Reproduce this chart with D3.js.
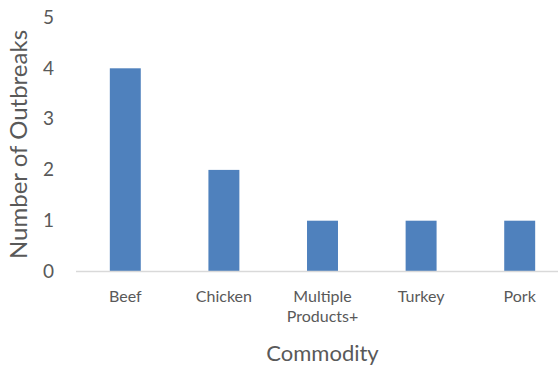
<!DOCTYPE html>
<html>
<head>
<meta charset="utf-8">
<script src="https://cdn.jsdelivr.net/npm/d3@7"></script>
<style>
  body { margin: 0; background: #fff; }
  svg { display: block; font-family: Lato, "Open Sans", sans-serif; }
</style>
</head>
<body>
<div id="chart"></div>
<script>
const categories = ['Beef', 'Chicken', 'Multiple Products+', 'Turkey', 'Pork'];
const outbreaks = [4, 2, 1, 1, 1];
const yTicks = [0, 1, 2, 3, 4, 5];

const width = 558;
const height = 366;
const plot = { left: 76, right: 569, top: 17.5, bottom: 271.5 };

const textColor = '#595959';

const svg = d3.select('#chart')
  .append('svg')
  .attr('width', width)
  .attr('height', height);

// Scales
const x = d3.scaleBand()
  .domain(categories)
  .range([plot.left, plot.right])
  .paddingInner(0.686)
  .paddingOuter(0.343);

const y = d3.scaleLinear()
  .domain([0, 5])
  .range([plot.bottom, plot.top]);

// Bars
svg.selectAll('.bar')
  .data(categories)
  .join('rect')
  .attr('class', 'bar')
  .attr('x', d => x(d))
  .attr('width', x.bandwidth())
  .attr('y', (d, i) => y(outbreaks[i]))
  .attr('height', (d, i) => y(0) - y(outbreaks[i]))
  .attr('fill', '#4f81bd');

// Baseline
svg.append('line')
  .attr('x1', plot.left)
  .attr('x2', plot.right)
  .attr('y1', y(0))
  .attr('y2', y(0))
  .attr('stroke', '#d9d9d9')
  .attr('stroke-width', 1.5);

// Y tick labels
svg.selectAll('.ytick')
  .data(yTicks)
  .join('text')
  .attr('class', 'ytick')
  .attr('x', 54)
  .attr('y', d => y(d))
  .attr('dy', '0.33em')
  .attr('text-anchor', 'end')
  .attr('fill', textColor)
  .attr('font-size', '19px')
  .text(d => d);

// X category labels (wrap "Multiple Products+")
const xLabels = svg.selectAll('.xlabel')
  .data(categories)
  .join('text')
  .attr('class', 'xlabel')
  .attr('text-anchor', 'middle')
  .attr('fill', textColor)
  .attr('font-size', '16px');

xLabels.each(function (d) {
  const words = d === 'Multiple Products+' ? ['Multiple', 'Products+'] : [d];
  const cx = x(d) + x.bandwidth() / 2;
  d3.select(this).selectAll('tspan')
    .data(words)
    .join('tspan')
    .attr('x', cx)
    .attr('y', (w, i) => 302 + i * 20)
    .text(w => w);
});

// Axis titles
svg.append('text')
  .attr('transform', `translate(27,${(plot.top + plot.bottom) / 2}) rotate(-90)`)
  .attr('text-anchor', 'middle')
  .attr('fill', textColor)
  .attr('font-size', '24px')
  .text('Number of Outbreaks');

svg.append('text')
  .attr('x', (plot.left + plot.right) / 2)
  .attr('y', 361)
  .attr('text-anchor', 'middle')
  .attr('fill', textColor)
  .attr('font-size', '22px')
  .text('Commodity');
</script>
</body>
</html>
